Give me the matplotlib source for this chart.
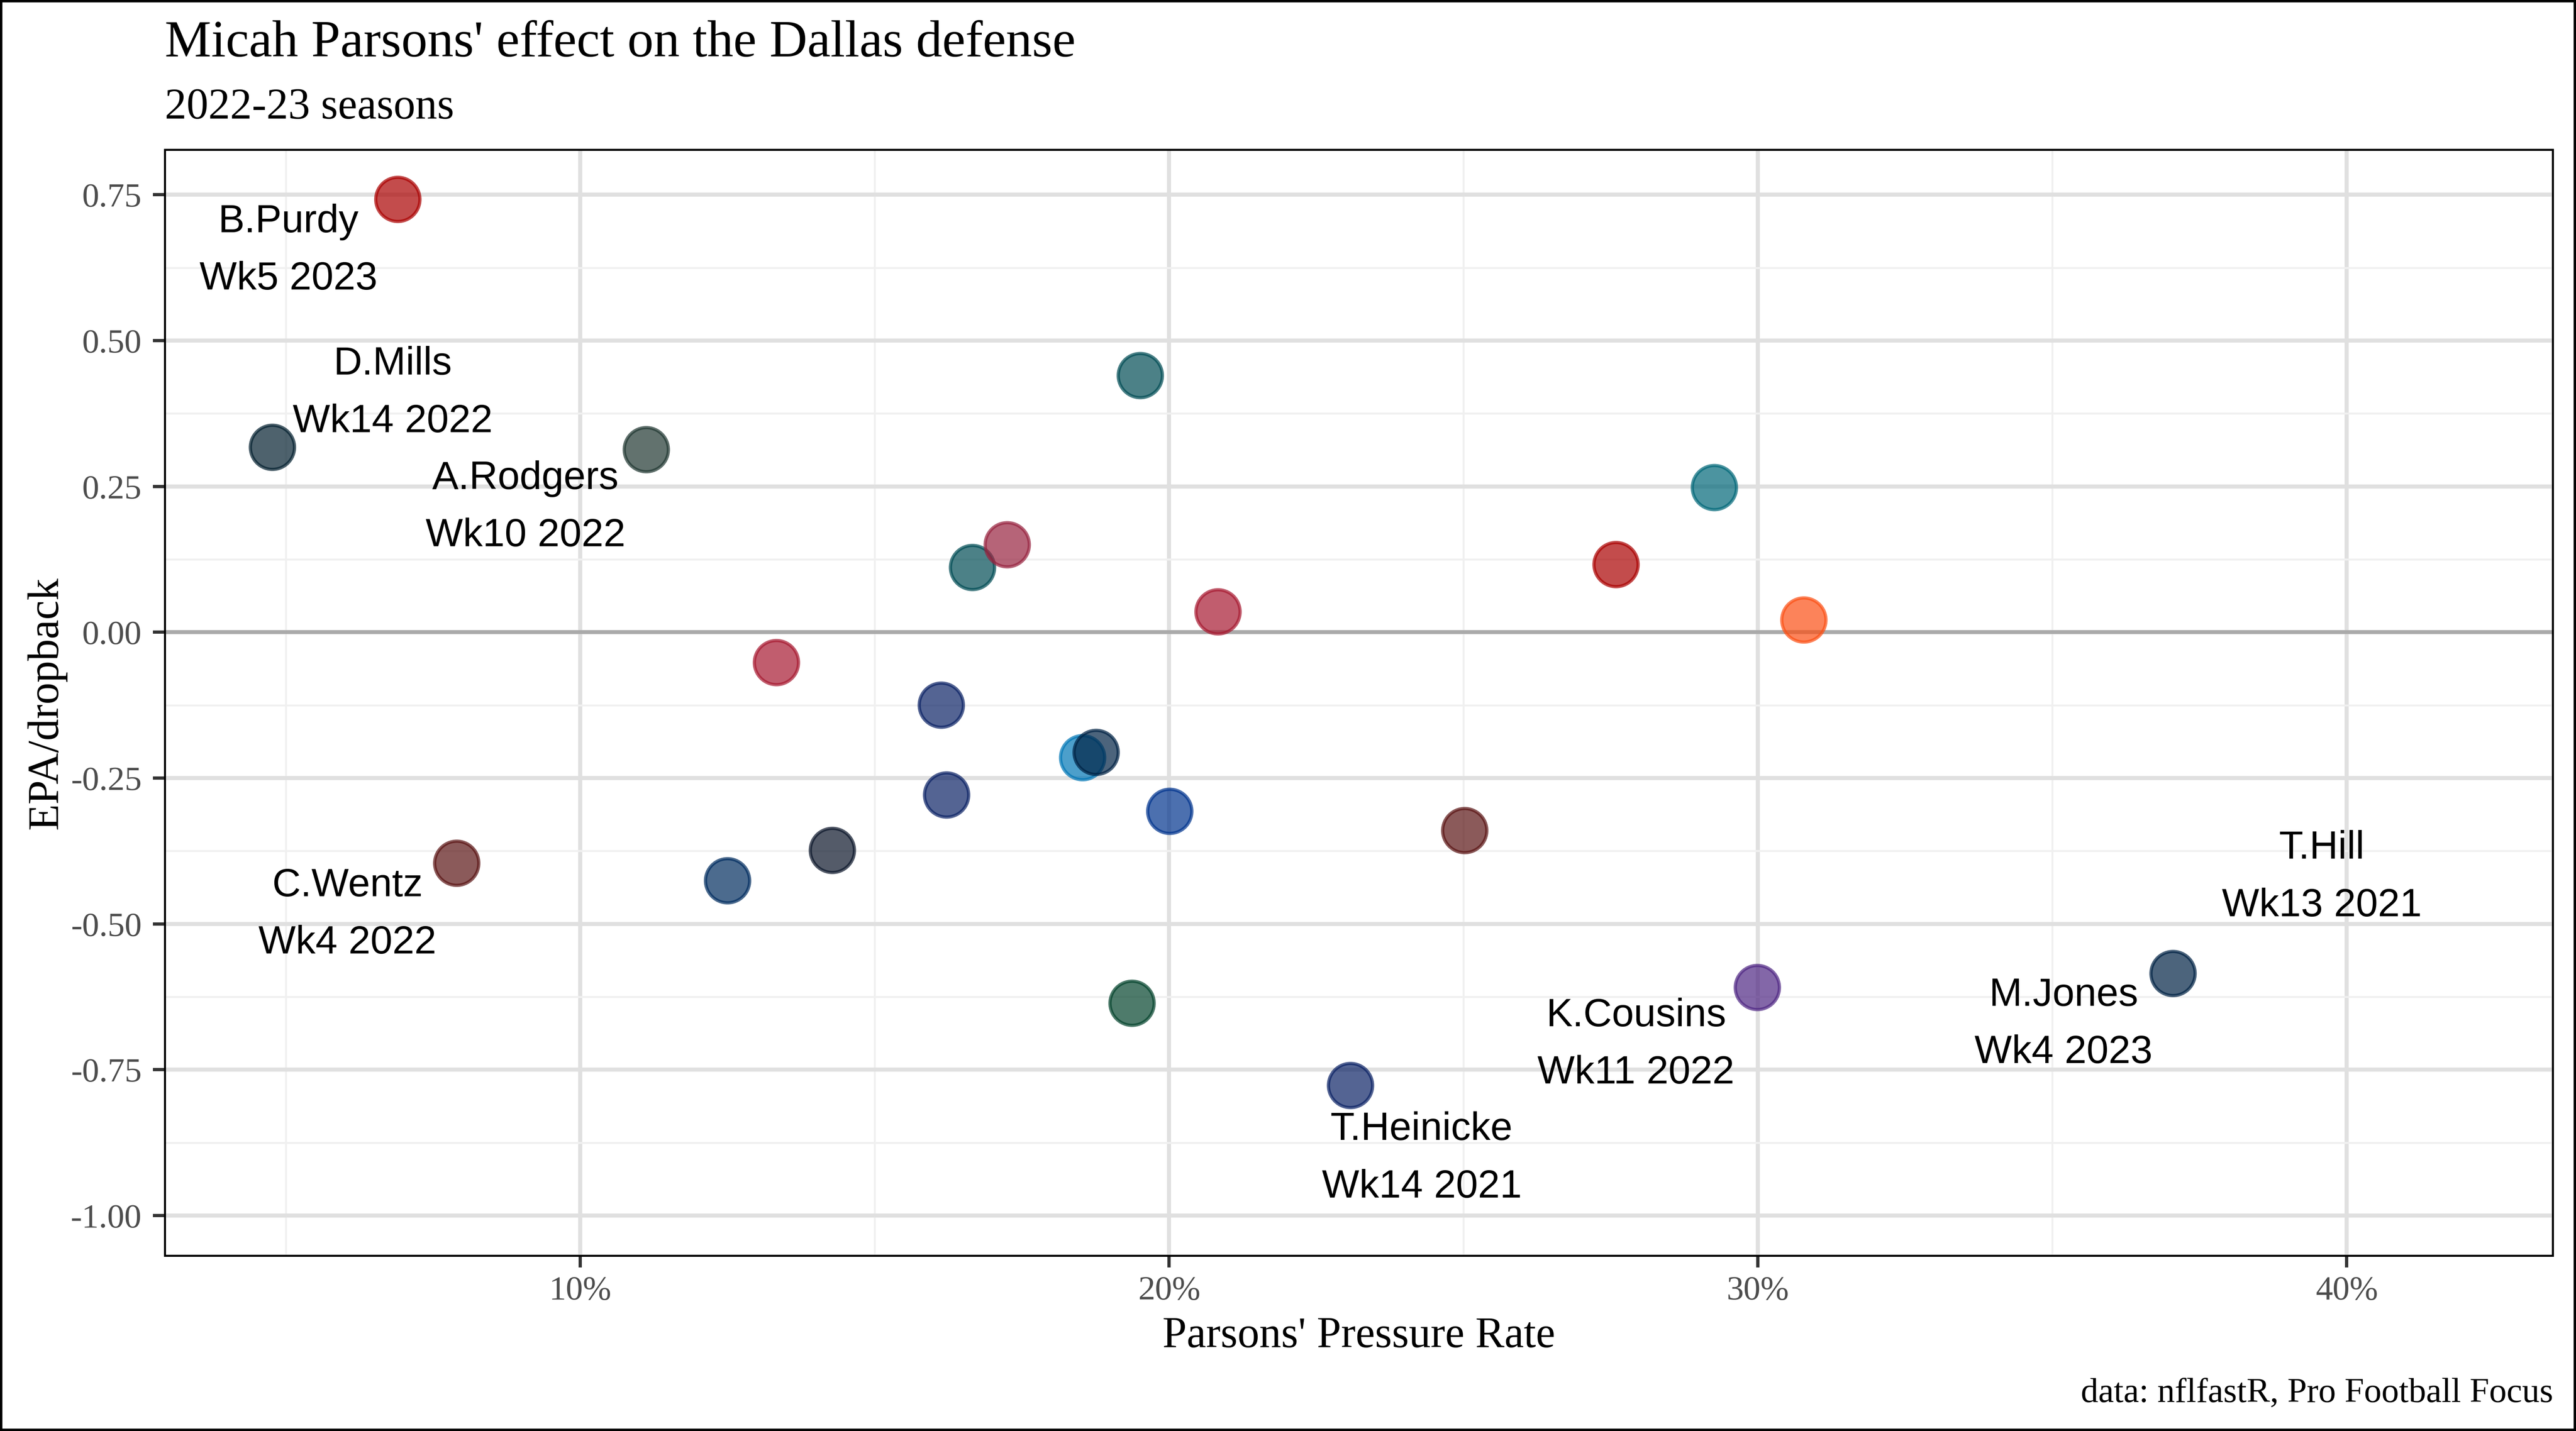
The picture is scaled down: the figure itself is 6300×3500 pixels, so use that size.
import matplotlib
matplotlib.use('Agg')
import matplotlib.pyplot as plt
from matplotlib.ticker import FixedLocator, FuncFormatter
from matplotlib.patches import Rectangle

# Parsons' pressure rate (%) vs opposing QB EPA/dropback, one dot per game
pressure_rate = [6.90, 4.77, 11.12, 19.51, 29.26, 16.66, 17.25, 20.83, 27.59, 30.78,
                 13.33, 16.13, 18.53, 18.76, 16.22, 20.01, 7.90, 25.02, 14.28, 12.50,
                 19.37, 23.08, 29.99, 37.05]
epa_per_db = [0.742, 0.317, 0.313, 0.440, 0.248, 0.111, 0.150, 0.035, 0.116, 0.021,
              -0.052, -0.125, -0.215, -0.206, -0.279, -0.307, -0.396, -0.340, -0.374, -0.426,
              -0.636, -0.777, -0.609, -0.585]
team_color = ['#AA0000', '#03202F', '#203731', '#004C54', '#006778', '#004C54', '#97233F',
              '#A71930', '#AA0000', '#FB4F14', '#A71930', '#0B2265', '#0076B6', '#002244',
              '#0B2265', '#00338D', '#5A1414', '#5A1414', '#0B162A', '#002C5F', '#03432C',
              '#0B2265', '#4F2683', '#002244']

# repelled labels (text and where they ended up)
label_text = ['B.Purdy\nWk5 2023', 'D.Mills\nWk14 2022', 'A.Rodgers\nWk10 2022',
              'C.Wentz\nWk4 2022', 'T.Heinicke\nWk14 2021', 'K.Cousins\nWk11 2022',
              'M.Jones\nWk4 2023', 'T.Hill\nWk13 2021']
label_x = [5.04, 6.81, 9.07, 6.04, 24.29, 27.93, 35.19, 39.58]
label_y = [0.654, 0.410, 0.214, -0.484, -0.902, -0.707, -0.672, -0.420]

x_ticks = [10, 20, 30, 40]
x_minor = [5, 15, 25, 35]
y_ticks = [-1.00, -0.75, -0.50, -0.25, 0.00, 0.25, 0.50, 0.75]
y_minor = [-0.875, -0.625, -0.375, -0.125, 0.125, 0.375, 0.625]

plt.rcParams['font.family'] = ['Liberation Serif', 'DejaVu Serif']

fig = plt.figure(figsize=(21, 35 / 3), dpi=300)
ax = fig.add_axes([0.0640, 0.1226, 0.9270, 0.7727])

ax.set_xlim(2.943, 43.5)
ax.set_ylim(-1.0685, 0.827)

ax.xaxis.set_major_locator(FixedLocator(x_ticks))
ax.xaxis.set_minor_locator(FixedLocator(x_minor))
ax.yaxis.set_major_locator(FixedLocator(y_ticks))
ax.yaxis.set_minor_locator(FixedLocator(y_minor))
ax.xaxis.set_major_formatter(FuncFormatter(lambda v, p: '%d%%' % round(v)))
ax.yaxis.set_major_formatter(FuncFormatter(lambda v, p: '%.2f' % v))

ax.set_axisbelow(True)
ax.grid(which='major', color='#E0E0E0', linewidth=2.4)
ax.grid(which='minor', color='#F0F0F0', linewidth=1.13)
ax.axhline(0, color='#AAAAAA', linewidth=2.3, zorder=1.5)

ax.tick_params(which='minor', length=0)
ax.tick_params(which='major', length=7, width=1.9, color='#333333',
               labelsize=20, labelcolor='#4D4D4D')
ax.tick_params(axis='x', pad=4.8)
ax.tick_params(axis='y', pad=6.5)
for sp in ax.spines.values():
    sp.set_linewidth(1.2)
    sp.set_color('black')

ax.scatter(pressure_rate, epa_per_db, s=672, c=team_color, edgecolors=team_color,
           linewidths=1.9, alpha=0.7, zorder=3)

for t, lx, ly in zip(label_text, label_x, label_y):
    ax.text(lx, ly, t, ha='center', va='center', fontsize=23.2,
            family=['Liberation Sans', 'DejaVu Sans'], linespacing=1.72, zorder=4)

# titles, axis titles, caption
fig.text(403 / 6300, 1 - 138 / 3500, "Micah Parsons' effect on the Dallas defense",
         fontsize=30.7, va='baseline', ha='left')
fig.text(403 / 6300, 1 - 290 / 3500, '2022-23 seasons',
         fontsize=25.6, va='baseline', ha='left')
fig.text(3323 / 6300, 1 - 3295 / 3500, "Parsons' Pressure Rate",
         fontsize=25.6, va='baseline', ha='center')
fig.text(114 / 6300, 1 - 1719 / 3500, 'EPA/dropback', rotation=90,
         fontsize=25.6, va='center', ha='center')
fig.text(6244 / 6300, 1 - 3429 / 3500, 'data: nflfastR, Pro Football Focus',
         fontsize=20.5, va='baseline', ha='right')

fig.patches.append(Rectangle((0, 0), 1, 1, transform=fig.transFigure, fill=False,
                             edgecolor='black', linewidth=2.8))

fig.savefig('out.png', dpi=300, facecolor='white')
